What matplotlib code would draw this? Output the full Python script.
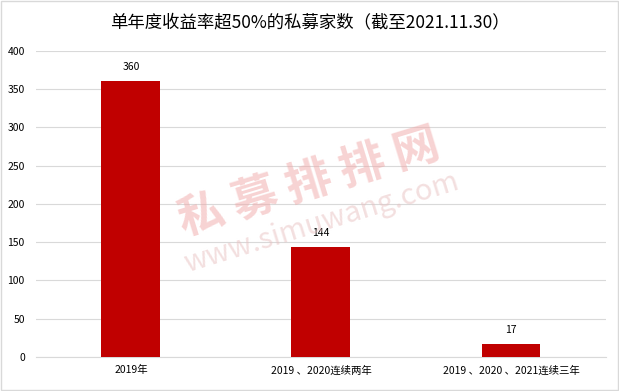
import matplotlib.pyplot as plt

plt.rcParams['font.family'] = ['Noto Sans CJK SC', 'DejaVu Sans']

categories = ['2019年', '2019 、2020连续两年', '2019 、2020 、2021连续三年']
counts = [360, 144, 17]
yticks = [0, 50, 100, 150, 200, 250, 300, 350, 400]
title = '单年度收益率超50%的私募家数（截至2021.11.30）'

fig = plt.figure(figsize=(6.19, 3.91), dpi=100)
ax = fig.add_axes([0.058, 0.087, 0.921, 0.783])

x = range(len(categories))
bars = ax.bar(x, counts, width=0.31, color='#C00000', zorder=3)
for b, v in zip(bars, counts):
    ax.text(b.get_x() + b.get_width() / 2, v + 12, str(v),
            ha='center', va='bottom', fontsize=7.5, color='#000000', zorder=4)

ax.set_xlim(-0.5, 2.5)
ax.set_ylim(0, 400)
ax.set_yticks(yticks)
ax.set_xticks(list(x))
ax.set_xticklabels(categories, fontsize=7.5)
ax.tick_params(axis='y', labelsize=7.5, length=0, pad=8)
ax.tick_params(axis='x', length=0, pad=6)
ax.grid(axis='y', color='#D9D9D9', linewidth=0.8, zorder=0)
for s in ['top', 'right', 'left']:
    ax.spines[s].set_visible(False)
ax.spines['bottom'].set_color('#D9D9D9')

# watermark
fig.text(0.50, 0.53, '私 募 排 排 网', fontsize=33, fontweight='bold', color='#F0A8A8',
         alpha=0.5, rotation=17, ha='center', va='center', zorder=1)
fig.text(0.52, 0.43, 'www.simuwang.com', fontsize=21, color='#E8C0C0',
         alpha=0.5, rotation=17, ha='center', va='center', zorder=1)

fig.text(0.5, 0.943, title, ha='center', va='center', fontsize=12.5, color='#000000')

border = plt.Rectangle((0.002, 0.003), 0.996, 0.994, transform=fig.transFigure,
                       fill=False, edgecolor='#D9D9D9', linewidth=1)
fig.patches.append(border)

fig.savefig('out.png', dpi=100)
